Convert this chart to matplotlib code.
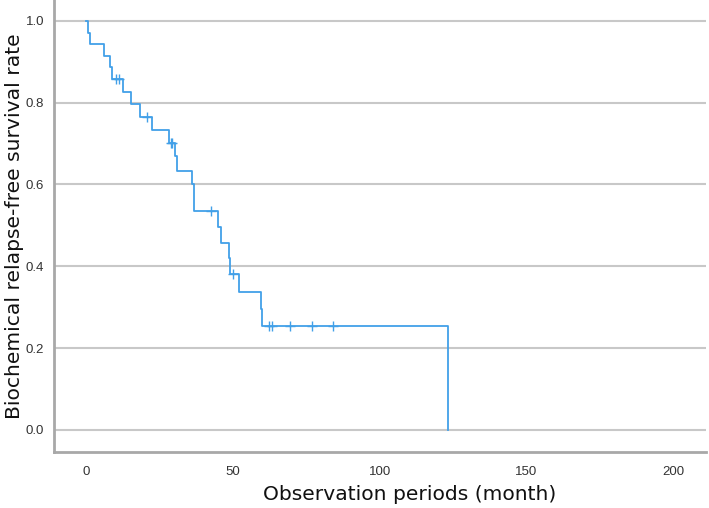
import matplotlib
matplotlib.use("Agg")
import matplotlib.pyplot as plt
from matplotlib import font_manager

# Kaplan-Meier step data (months, survival after event)
event_times = [0.0, 0.8, 1.4, 6.1, 8.2, 8.8, 12.5, 15.2, 18.4, 22.4, 28.3, 30.3, 30.9,
               36.0, 36.8, 45.0, 46.0, 48.7, 49.0, 52.1, 59.5, 60.0, 123.2]
survival = [1.0, 0.971, 0.943, 0.914, 0.886, 0.857, 0.827, 0.796, 0.764, 0.733, 0.701,
            0.670, 0.634, 0.601, 0.534, 0.496, 0.456, 0.420, 0.381, 0.338, 0.295, 0.255, 0.0]
censor_times = [10.2, 11.1, 20.9, 28.8, 29.4, 42.5, 49.9, 62.4, 63.3, 69.5, 77.1, 84.2]
censor_surv = [0.857, 0.857, 0.764, 0.701, 0.701, 0.534, 0.381, 0.255, 0.255, 0.255, 0.255, 0.255]

x_ticks = [0, 50, 100, 150, 200]
y_ticks = [0.0, 0.2, 0.4, 0.6, 0.8, 1.0]
x_label = "Observation periods (month)"
y_label = "Biochemical relapse-free survival rate"

names = {f.name for f in font_manager.fontManager.ttflist}
tick_font = "Liberation Sans Narrow" if "Liberation Sans Narrow" in names else "Liberation Sans"

line_color = "#42a0e8"
grid_color = "#c8c8c8"
spine_color = "#a8a8a8"

fig = plt.figure(figsize=(7.09, 5.08), dpi=100)
ax = fig.add_axes([54/709, (508-452)/508, (706-54)/709, 452/508])

ax.step(event_times, survival, where="post", color=line_color, lw=1.3, zorder=3)
ax.plot(censor_times, censor_surv, linestyle="none", marker="+", markersize=7,
        markeredgewidth=1.0, color=line_color, zorder=3)

ax.set_xlim(-10.9, 211.1)
ax.set_ylim(-0.054, 1.051)
ax.set_xticks(x_ticks)
ax.set_yticks(y_ticks)
ax.set_yticklabels([f"{v:.1f}" for v in y_ticks])
ax.grid(axis="y", color=grid_color, lw=1.5, zorder=0)
ax.set_axisbelow(True)

for s in ["top", "right"]:
    ax.spines[s].set_visible(False)
for s in ["left", "bottom"]:
    ax.spines[s].set_color(spine_color)
    ax.spines[s].set_linewidth(2)

ax.tick_params(axis="both", length=0, colors="#333333", labelsize=9.5)
ax.tick_params(axis="x", pad=10)
ax.tick_params(axis="y", pad=7)
for lab in ax.get_xticklabels() + ax.get_yticklabels():
    lab.set_fontfamily(tick_font)

ax.set_xlabel(x_label, fontsize=14.6, family="DejaVu Sans", color="#111111", va="center")
ax.set_ylabel(y_label, fontsize=14.6, family="DejaVu Sans", color="#111111", va="center")
ax.xaxis.set_label_coords(0.545, -0.095)
ax.yaxis.set_label_coords(-0.061, 0.5)

fig.savefig("out.png", dpi=100)
